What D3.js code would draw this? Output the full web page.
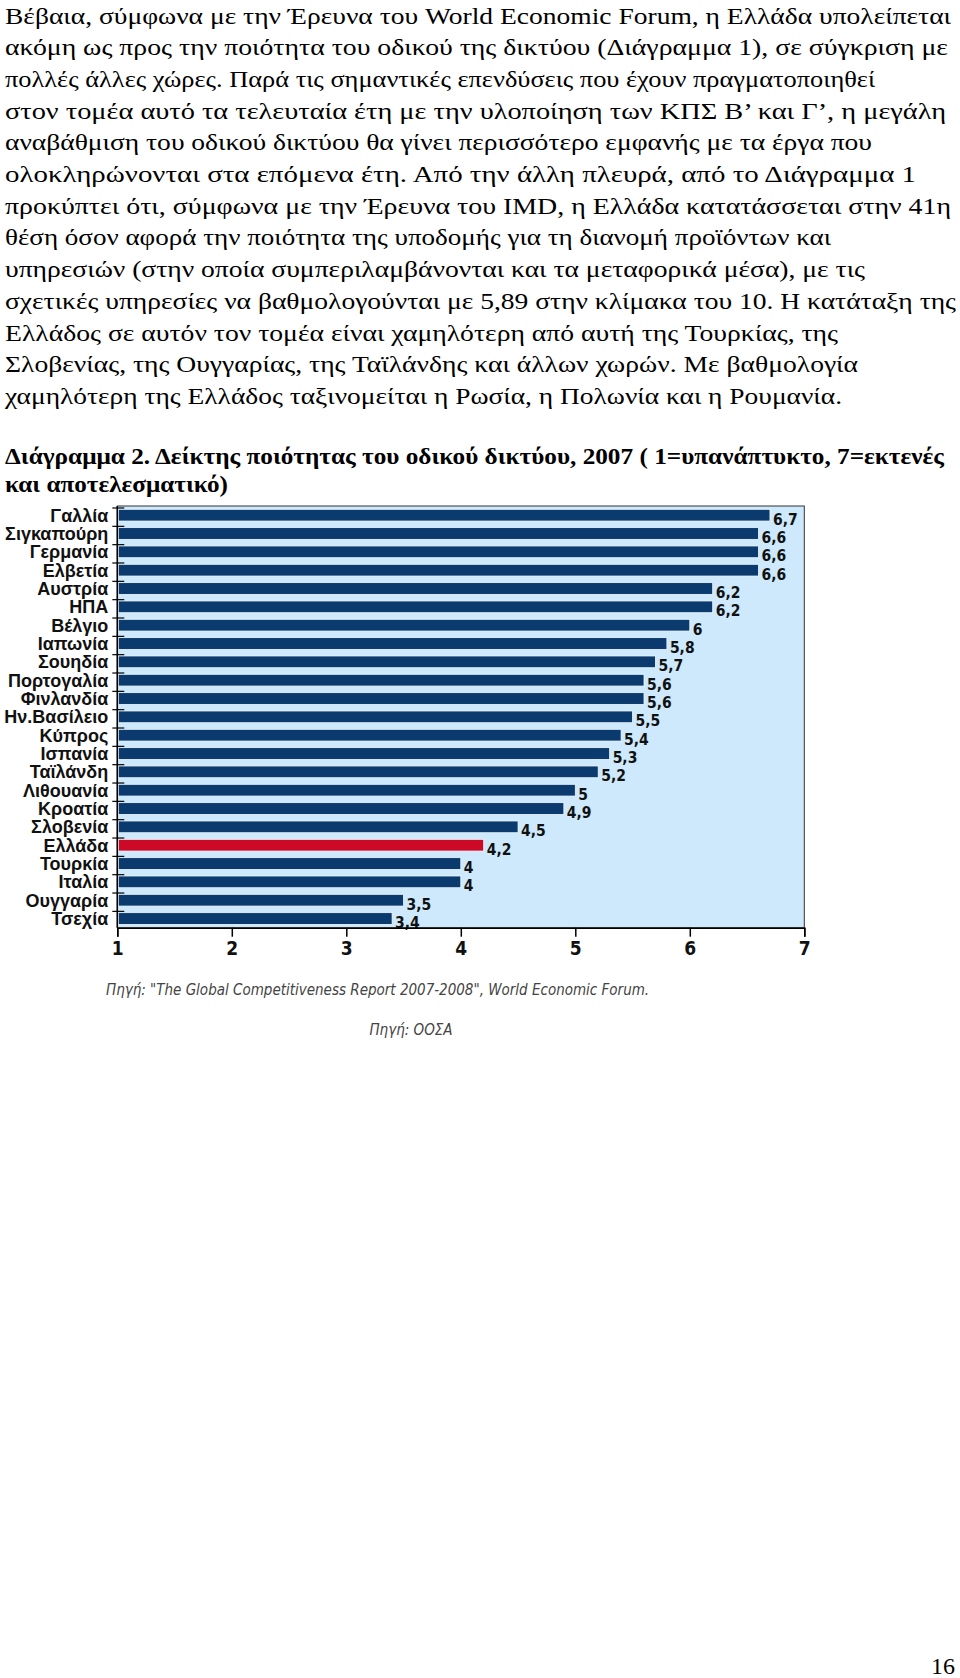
<!DOCTYPE html>
<html>
<head>
<meta charset="utf-8">
<script src="https://cdn.jsdelivr.net/npm/d3@7"></script>
<style>
  html, body { margin: 0; padding: 0; background: #fff; }
  svg { display: block; }
</style>
</head>
<body>
<script>
// ---- DATA ----
const bodyLines = [
  "Βέβαια, σύμφωνα με την Έρευνα του World Economic Forum, η Ελλάδα υπολείπεται",
  "ακόμη ως προς την ποιότητα του οδικού της δικτύου (Διάγραμμα 1), σε σύγκριση με",
  "πολλές άλλες χώρες. Παρά τις σημαντικές επενδύσεις που έχουν πραγματοποιηθεί",
  "στον τομέα αυτό τα τελευταία έτη με την υλοποίηση των ΚΠΣ Β’ και Γ’, η μεγάλη",
  "αναβάθμιση του οδικού δικτύου θα γίνει περισσότερο εμφανής με τα έργα που",
  "ολοκληρώνονται στα επόμενα έτη. Από την άλλη πλευρά, από το Διάγραμμα 1",
  "προκύπτει ότι, σύμφωνα με την Έρευνα του IMD, η Ελλάδα κατατάσσεται στην 41η",
  "θέση όσον αφορά την ποιότητα της υποδομής για τη διανομή προϊόντων και",
  "υπηρεσιών (στην οποία συμπεριλαμβάνονται και τα μεταφορικά μέσα), με τις",
  "σχετικές υπηρεσίες να βαθμολογούνται με 5,89 στην κλίμακα του 10. Η κατάταξη της",
  "Ελλάδος σε αυτόν τον τομέα είναι χαμηλότερη από αυτή της Τουρκίας, της",
  "Σλοβενίας, της Ουγγαρίας, της Ταϊλάνδης και άλλων χωρών. Με βαθμολογία",
  "χαμηλότερη της Ελλάδος ταξινομείται η Ρωσία, η Πολωνία και η Ρουμανία."
];
const titleLines = [
  "Διάγραμμα 2. Δείκτης ποιότητας του οδικού δικτύου, 2007 ( 1=υπανάπτυκτο, 7=εκτενές",
  "και αποτελεσματικό)"
];
const categories = ["Γαλλία","Σιγκαπούρη","Γερμανία","Ελβετία","Αυστρία","ΗΠΑ","Βέλγιο","Ιαπωνία","Σουηδία","Πορτογαλία","Φινλανδία","Ην.Βασίλειο","Κύπρος","Ισπανία","Ταϊλάνδη","Λιθουανία","Κροατία","Σλοβενία","Ελλάδα","Τουρκία","Ιταλία","Ουγγαρία","Τσεχία"];
const values = [6.7,6.6,6.6,6.6,6.2,6.2,6,5.8,5.7,5.6,5.6,5.5,5.4,5.3,5.2,5,4.9,4.5,4.2,4,4,3.5,3.4];
const highlighted = ["Ελλάδα"];
const xTicks = [1,2,3,4,5,6,7];
const sources = [
  "Πηγή: \"The Global Competitiveness Report 2007-2008\", World Economic Forum.",
  "Πηγή: ΟΟΣΑ"
];
const pageNumber = "16";

// ---- LAYOUT (page geometry, not data) ----
const W = 960, H = 1678;
const textLeft = 5;
const bodyLineRightEdges = [951, 948, 875, 946, 872, 916, 951, 831, 865, 956, 838, 858, 842];
const titleLineRightEdges = [944, 228];

const svg = d3.select("body").append("svg").attr("width", W).attr("height", H);

const serif = "'Liberation Serif', 'Times New Roman', serif";
const narrow = "'Liberation Sans Narrow', 'DejaVu Sans Condensed', 'Liberation Sans', sans-serif";

// body text
svg.append("g").selectAll("text").data(bodyLines).join("text")
  .attr("x", textLeft)
  .attr("y", (d, i) => 23.5 + i * 31.7)
  .attr("font-family", serif)
  .attr("font-size", 23.5)
  .attr("fill", "#000")
  .attr("textLength", (d, i) => bodyLineRightEdges[i] - textLeft)
  .attr("lengthAdjust", "spacingAndGlyphs")
  .text(d => d);

// title
svg.append("g").selectAll("text").data(titleLines).join("text")
  .attr("x", textLeft)
  .attr("y", (d, i) => 464 + i * 28)
  .attr("font-family", serif)
  .attr("font-weight", "bold")
  .attr("font-size", 23)
  .attr("fill", "#000")
  .attr("textLength", (d, i) => titleLineRightEdges[i] - textLeft)
  .attr("lengthAdjust", "spacingAndGlyphs")
  .text(d => d);

// chart
const pLeft = 117.3, pRight = 804.3, pTop = 506, pBottom = 927.7;
const x = d3.scaleLinear().domain([1, 7]).range([pLeft, pRight]);
const y = d3.scaleBand().domain(categories).range([pTop, pBottom]).paddingInner(0.36).paddingOuter(0.18);

const g = svg.append("g");
g.append("rect")
  .attr("x", pLeft).attr("y", pTop)
  .attr("width", pRight - pLeft).attr("height", pBottom - pTop)
  .attr("fill", "#cde9fb")
  .attr("stroke", "#333").attr("stroke-width", 1);

// bars
g.selectAll("rect.bar").data(categories).join("rect")
  .attr("class", "bar")
  .attr("x", x(1) + 1)
  .attr("y", d => y(d))
  .attr("width", (d, i) => x(values[i]) - x(1) - 1)
  .attr("height", y.bandwidth())
  .attr("fill", d => highlighted.includes(d) ? "#cc0a28" : "#0b3a6e")
  .attr("stroke", "#eef8fe").attr("stroke-width", 0.8);

// value labels
g.selectAll("text.val").data(categories).join("text")
  .attr("class", "val")
  .attr("x", (d, i) => x(values[i]) + 3)
  .attr("y", d => y(d) + y.bandwidth() / 2 + 4)
  .attr("dy", "0.35em")
  .attr("font-family", narrow)
  .attr("font-weight", "bold")
  .attr("font-size", 15.5)
  .attr("fill", "#111")
  .text((d, i) => String(values[i]).replace(".", ","));

// y axis (left) with ticks between bars
const yAxis = g.append("g");
yAxis.append("line").attr("x1", pLeft).attr("x2", pLeft).attr("y1", pTop).attr("y2", pBottom)
  .attr("stroke", "#000").attr("stroke-width", 1.5);
yAxis.selectAll("line.tk").data(categories).join("line")
  .attr("class", "tk")
  .attr("x1", pLeft - 5).attr("x2", pLeft + 7)
  .attr("y1", d => y(d) - y.step() * y.paddingInner() / 2 + 2)
  .attr("y2", d => y(d) - y.step() * y.paddingInner() / 2 + 2)
  .attr("stroke", "#000").attr("stroke-width", 1.2);
yAxis.selectAll("text").data(categories).join("text")
  .attr("x", pLeft - 9)
  .attr("y", d => y(d) + y.bandwidth() / 2)
  .attr("dy", "0.36em")
  .attr("text-anchor", "end")
  .attr("font-family", "'Liberation Sans', Arial, sans-serif")
  .attr("font-weight", "bold")
  .attr("font-size", 18)
  .attr("fill", "#111")
  .text(d => d);

// x axis
const xAxisG = g.append("g").attr("transform", `translate(0,${pBottom})`)
  .call(d3.axisBottom(x).tickValues(xTicks).tickSize(9).tickPadding(5).tickFormat(d3.format("d")));
xAxisG.select(".domain").attr("stroke", "#000").attr("stroke-width", 1.5);
xAxisG.selectAll(".tick line").attr("stroke", "#000").attr("stroke-width", 1.5);
xAxisG.selectAll(".tick text")
  .attr("font-family", narrow)
  .attr("font-weight", "bold")
  .attr("font-size", 19)
  .attr("fill", "#111");

// sources
svg.append("text")
  .attr("x", 106).attr("y", 995)
  .attr("font-family", narrow)
  .attr("font-style", "italic")
  .attr("font-size", 15)
  .attr("fill", "#444")
  .text(sources[0]);
svg.append("text")
  .attr("x", 411).attr("y", 1035)
  .attr("text-anchor", "middle")
  .attr("font-family", narrow)
  .attr("font-style", "italic")
  .attr("font-size", 15)
  .attr("fill", "#444")
  .text(sources[1]);

// page number
svg.append("text")
  .attr("x", 955).attr("y", 1674)
  .attr("text-anchor", "end")
  .attr("font-family", serif)
  .attr("font-size", 24)
  .attr("fill", "#000")
  .text(pageNumber);
</script>
</body>
</html>
